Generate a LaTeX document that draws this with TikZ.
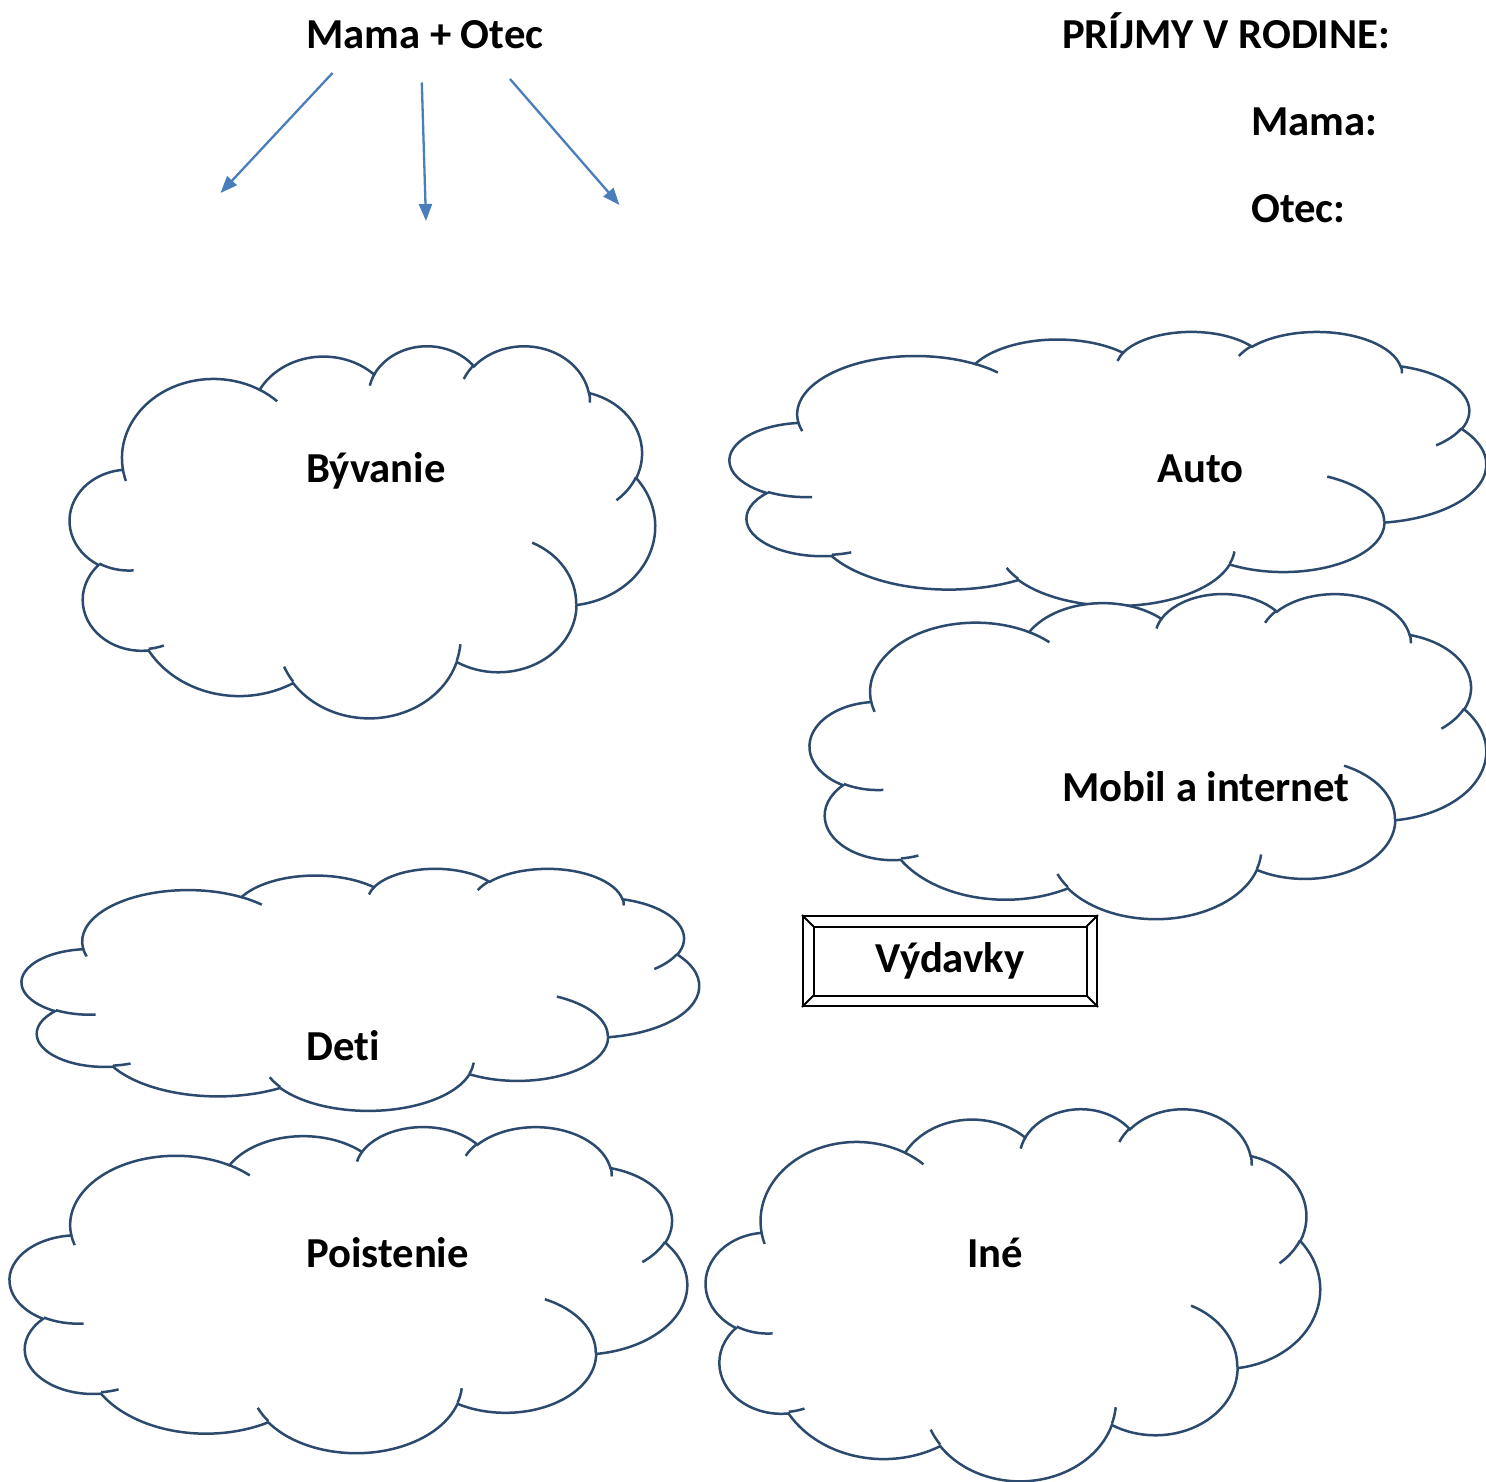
\documentclass[tikz,border=0pt]{standalone}
\usepackage{fontspec}
\setmainfont{Carlito}[Ligatures=NoCommon]
\usetikzlibrary{arrows.meta,calc}
\definecolor{cloudblue}{HTML}{2C4A6E}
\definecolor{arrowblue}{HTML}{4A7EBB}

% visual (DrawingML) angles -> parametric arc
\newcommand\defarc[5]{%
  \pgfmathsetmacro\tmpA{atan2((#2)*sin(#4),(#3)*cos(#4))}%
  \pgfmathsetmacro\tmpB{atan2((#2)*sin((#4)+(#5)),(#3)*cos((#4)+(#5)))}%
  \pgfmathsetmacro\tmpD{(\tmpB)-(\tmpA)}%
  \pgfmathsetmacro\tmpD{(\tmpD)+360*round(((#5)-(\tmpD))/360)}%
  \expandafter\xdef\csname carc#1\endcsname{arc[start angle=\tmpA, delta angle=\tmpD, x radius=#2, y radius=#3]}%
}
\defarc{1}{6.753}{9.190}{-190.4875}{123.7805}
\defarc{2}{5.333}{7.267}{-144.1024}{89.9452}
\defarc{3}{4.365}{5.945}{-145.8079}{99.7230}
\defarc{4}{4.857}{6.595}{-130.9861}{117.2417}
\defarc{5}{5.333}{7.273}{-78.7089}{109.0269}
\defarc{6}{6.775}{9.220}{-46.2673}{130.2690}
\defarc{7}{5.785}{7.867}{0.6250}{114.0333}
\defarc{8}{6.752}{9.215}{22.4516}{115.1726}
\defarc{9}{7.720}{10.543}{66.2426}{75.7110}
\defarc{10}{4.360}{5.918}{-274.9421}{146.7356}
\defarc{11}{4.345}{5.945}{-246.8285}{152.5189}
\defarc{a}{4.345}{5.945}{86.7420}{26.4295}
\defarc{b}{4.360}{5.918}{73.6105}{11.4475}
\defarc{c}{6.752}{9.215}{137.6242}{14.0811}
\defarc{d}{6.752}{9.215}{6.4533}{15.9984}
\defarc{e}{5.785}{7.867}{-70.2924}{70.9174}
\defarc{f}{5.333}{7.273}{30.3180}{27.7515}
\defarc{g}{4.857}{6.595}{-13.7443}{14.8589}
\defarc{h}{4.857}{6.595}{-149.1815}{18.1954}
\defarc{i}{4.365}{5.945}{-163.4943}{17.6864}
\defarc{j}{6.753}{9.190}{-66.7070}{12.3194}
\defarc{k}{6.753}{9.190}{157.6544}{11.8582}

\xdef\cldmain{(3.900,14.370) \csname carc1\endcsname \csname carc2\endcsname
 \csname carc3\endcsname \csname carc4\endcsname \csname carc5\endcsname
 \csname carc6\endcsname \csname carc7\endcsname \csname carc8\endcsname
 \csname carc9\endcsname \csname carc10\endcsname \csname carc11\endcsname -- cycle}
\xdef\cldinner{(4.693,26.177) \csname carca\endcsname
 (6.928,34.899) \csname carcb\endcsname
 (16.478,39.090) \csname carcc\endcsname
 (28.827,34.751) \csname carcd\endcsname
 (34.129,22.954) \csname carce\endcsname
 (41.798,15.354) \csname carcf\endcsname
 (38.324,5.426) \csname carcg\endcsname
 (29.078,3.952) \csname carch\endcsname
 (22.141,4.720) \csname carci\endcsname
 (14.000,5.192) \csname carcj\endcsname
 (4.127,15.789) \csname carck\endcsname}

\newcommand\drawcloud[4]{%
  \begin{scope}[shift={(#1,#2)},x={(#3/43.2*1pt,0pt)},y={(0pt,-#4/43.2*1pt)}]
    \filldraw[cloudline] \cldmain;
    \draw[cloudline] \cldinner;
  \end{scope}}

\tikzset{
  cloudline/.style={draw=cloudblue, fill=white, line width=2.5pt},
  lbl/.style={font=\bfseries\fontsize{42.7}{50}\selectfont, inner sep=0pt, anchor=base west},
  arr/.style={draw=arrowblue, line width=2.3pt, -{Triangle[length=17pt,width=13pt]}},
  bevelbox/.style={draw=black, line width=2pt, minimum width=294pt, minimum height=90pt,
    font=\bfseries\fontsize{42.7}{50}\selectfont, inner sep=0pt}
}

\begin{document}
\begin{tikzpicture}[x=1pt,y=-1pt]
\useasboundingbox (0,0) rectangle (1486,1481);
\fill[white] (0,0) rectangle (1486,1481);

% clouds
\drawcloud{70}{345}{585}{372}
\drawcloud{730}{331}{756}{274}
\drawcloud{810}{593}{676}{325}
\drawcloud{22}{868}{677}{242}
\drawcloud{10}{1126}{677}{326}
\drawcloud{706}{1108}{614}{372}

% header texts
\node[lbl] (mo) at (306,48) {Mama + Otec};
\node[lbl] (prijmy) at (1062,48) {PRÍJMY V RODINE:};
\node[lbl] (mama) at (1251,135.5) {Mama:};
\node[lbl] (otec) at (1251,222.5) {Otec:};

% arrows
\coordinate (s1) at (332.5,73);
\coordinate (e1) at (220.5,193);
\coordinate (s2) at (421.8,82.5);
\coordinate (e2) at (426,221);
\coordinate (s3) at (510,79);
\coordinate (e3) at (619.5,205);
\draw[arr] (s1) -- (e1);
\draw[arr] (s2) -- (e2);
\draw[arr] (s3) -- (e3);

% cloud labels
\node[lbl] (byv) at (306,482) {Bývanie};
\node[lbl] (auto) at (1157,482) {Auto};
\node[lbl] (mobil) at (1062,801) {Mobil a internet};
\node[lbl] (deti) at (306,1060) {Deti};
\node[lbl] (poist) at (306,1267) {Poistenie};
\node[lbl] (ine) at (967,1267) {Iné};

% Vydavky bevel box
\node[bevelbox] (vyd) at (950,961) {\raisebox{-2pt}{Výdavky}};
\draw[line width=2pt] ($(vyd.north west)+(11.5,11.5)$) rectangle ($(vyd.south east)+(-11.5,-11.5)$);
\draw[line width=2pt] (vyd.north west) -- ++(11.5,11.5);
\draw[line width=2pt] (vyd.north east) -- ++(-11.5,11.5);
\draw[line width=2pt] (vyd.south west) -- ++(11.5,-11.5);
\draw[line width=2pt] (vyd.south east) -- ++(-11.5,-11.5);
\end{tikzpicture}
\end{document}
